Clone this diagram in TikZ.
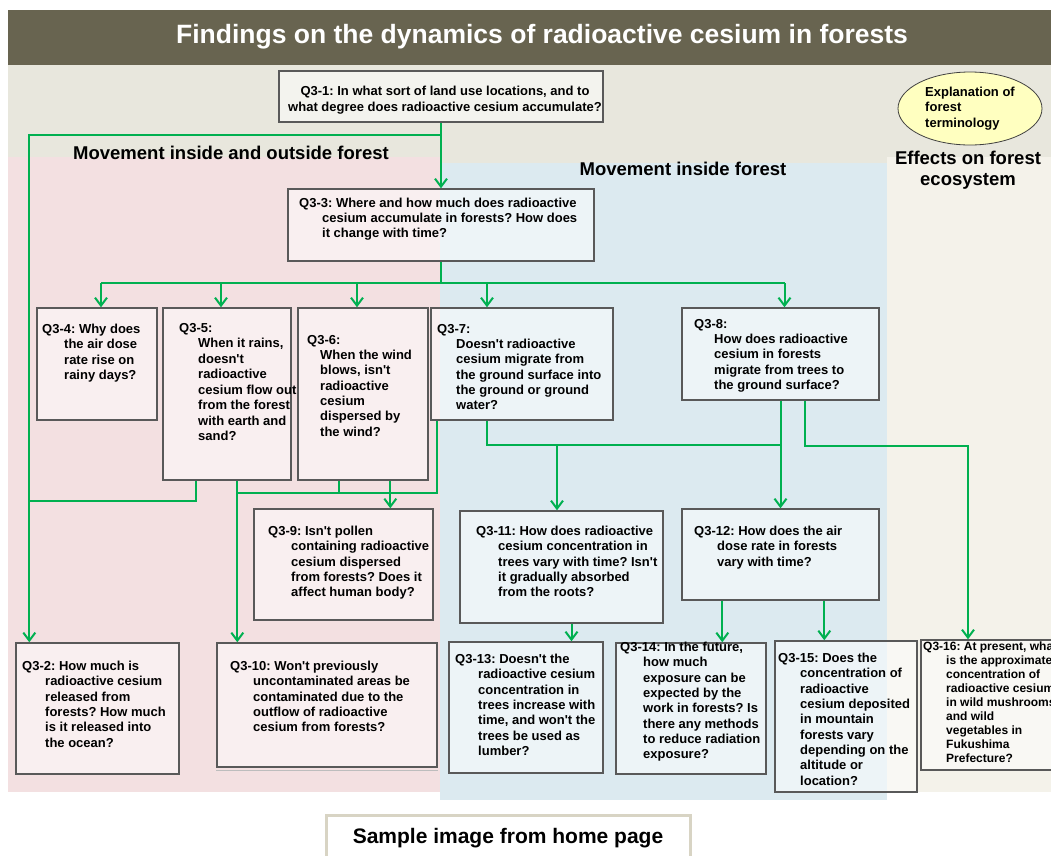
\documentclass[tikz,border=0pt]{standalone}
\usepackage{fontspec}
\setmainfont{Liberation Sans}[Ligatures=TeXOff]
\usetikzlibrary{positioning,arrows.meta,shapes.geometric}

\definecolor{titlebar}{RGB}{104,100,80}
\definecolor{topzone}{RGB}{232,231,221}
\definecolor{pinkzone}{RGB}{243,224,225}
\definecolor{bluezone}{RGB}{220,234,240}
\definecolor{ecozone}{RGB}{244,242,234}
\definecolor{flowgreen}{RGB}{0,176,80}
\definecolor{boxline}{RGB}{89,89,89}
\definecolor{notebox}{RGB}{216,212,196}
\definecolor{termfill}{RGB}{255,255,192}
\newcommand{\qi}[1][22]{\hspace*{#1pt}}
\frenchspacing

\begin{document}
\begin{tikzpicture}[x=1pt,y=-1pt,
  qbox/.style={draw=boxline,line width=1.4pt,fill=white,fill opacity=0.5,rectangle,inner sep=0pt},
  qtext/.style={anchor=north west,inner sep=0pt,align=left,font=\fontsize{13}{15.3}\selectfont\bfseries},
  link/.style={draw=flowgreen,line width=2pt},
  flow/.style={link,-{Straight Barb[length=8pt,width=12pt]}},
  zone/.style={font=\fontsize{18.5}{21}\selectfont\bfseries}]
\useasboundingbox (0,0) rectangle (1051,855);
\clip (0,0) rectangle (1051,855);

% background zones
\fill[titlebar] (8,10) rectangle (1051,65);
\fill[topzone] (8,65) rectangle (1051,163);
\fill[pinkzone] (8,157) rectangle (440,792);
\fill[bluezone] (440,163) rectangle (887,800);
\fill[ecozone] (887,157) rectangle (1051,792);

\node[font=\fontsize{26.5}{30}\selectfont\bfseries,text=white] (title) at (542,37) {Findings on the dynamics of radioactive cesium in forests};
\node[zone] (outside) at (231,153) {Movement inside and outside forest};
\node[zone] (inside) at (683,169) {Movement inside forest};
\node[zone,align=center,font=\fontsize{18.5}{21}\selectfont\bfseries] (effects) at (968,170) {Effects on forest\\ecosystem};
\node[ellipse,draw=black!75,line width=0.8pt,fill=termfill,minimum width=144pt,minimum height=73pt,inner sep=0pt,
  align=left,font=\fontsize{13}{15.5}\selectfont\bfseries] (terms) at (970,108.5) {Explanation of\\forest\\terminology};

% question boxes
\node[qbox,minimum width=324pt,minimum height=51pt] (q1) at (441,96.5) {};
\node[qbox,minimum width=306pt,minimum height=72pt] (q3) at (441,225) {};
\node[qbox,minimum width=120pt,minimum height=112pt] (q4) at (97,364) {};
\node[qbox,minimum width=128pt,minimum height=172pt] (q5) at (227,394) {};
\node[qbox,minimum width=130pt,minimum height=172pt] (q6) at (363,394) {};
\node[qbox,minimum width=182pt,minimum height=112pt] (q7) at (522,364) {};
\node[qbox,minimum width=197pt,minimum height=92pt] (q8) at (780.5,354) {};
\node[qbox,minimum width=179pt,minimum height=111pt] (q9) at (343.5,564.5) {};
\node[qbox,minimum width=163pt,minimum height=131pt] (q2) at (97.5,708.5) {};
\node[qbox,minimum width=220pt,minimum height=124pt] (q10) at (327,705) {};
\node[qbox,minimum width=203pt,minimum height=112pt] (q11) at (561.5,567) {};
\node[qbox,minimum width=197pt,minimum height=91pt] (q12) at (780.5,554.5) {};
\node[qbox,minimum width=154pt,minimum height=131pt] (q13) at (526,707.5) {};
\node[qbox,minimum width=150pt,minimum height=131pt] (q14) at (691,708.5) {};
\node[qbox,minimum width=142pt,minimum height=151pt] (q15) at (846,716.5) {};
\node[qbox,minimum width=139pt,minimum height=130pt] (q16) at (990.5,705) {};
\draw[boxline!40,line width=1pt] ([yshift=-3]q10.south west) -- ([yshift=-3]q10.south east);

% connectors
\coordinate (fork) at (441,135);
\draw[flow] (q1.south) -- (q3.north);
\draw[flow] (fork) -| ([xshift=14]q2.north west);
\coordinate (rainjoin) at (30,501);
\draw[link] ([xshift=34]q5.south west) |- (rainjoin);
\coordinate (bus) at (441,283);
\draw[link] (q3.south) -- (bus);
\draw[link] ([xshift=4]q4.north |- bus) -- ([xshift=4]q8.north |- bus);
\foreach \q/\dx in {q4/4,q5/-6,q6/-6,q7/-35,q8/4}
  \draw[flow] ([xshift=\dx]\q.north |- bus) -- ([xshift=\dx]\q.north);
\coordinate (washL) at (238,493);
\draw[link] ([xshift=7]q7.south west) |- (washL);
\draw[link] ([xshift=42]q6.south west) -- ([xshift=42]q6.south west |- washL);
\draw[flow] ([xshift=75]q5.south west) -- ([xshift=75]q5.south west |- q10.north);
\draw[flow] ([xshift=93]q6.south west) -- ([xshift=93]q6.south west |- q9.north);
\coordinate (soil) at (557,445);
\draw[link] ([xshift=57]q7.south west) |- (q8.south |- soil);
\draw[flow] (soil) -- (soil |- q11.north);
\draw[flow] (q8.south) -- (q12.north);
\coordinate (food) at (968,446);
\draw[flow] ([xshift=24]q8.south) |- (food) -- (food |- q16.north);
\draw[flow] ([xshift=10]q11.south) -- ([xshift=10]q11.south |- q13.north);
\draw[flow] ([xshift=41]q12.south west) -- ([xshift=41]q12.south west |- q14.north);
\draw[flow] ([xshift=143]q12.south west) -- ([xshift=143]q12.south west |- q15.north);

% question texts
\node[qtext,anchor=north,align=center,font=\fontsize{13}{16}\selectfont\bfseries] (t1) at (445,86) {Q3-1: In what sort of land use locations, and to\\what degree does radioactive cesium accumulate?};
\node[qtext,font=\fontsize{13}{15}\selectfont\bfseries] (t3) at (299,198) {Q3-3: Where and how much does radioactive\\\qi[23]cesium accumulate in forests? How does\\\qi[23]it change with time?};
\node[qtext] (t4) at (42,324) {Q3-4: Why does\\\qi the air dose\\\qi rate rise on\\\qi rainy days?};
\node[qtext,font=\fontsize{13}{15.5}\selectfont\bfseries] (t5) at (179,323) {Q3-5:\\\qi[19]When it rains,\\\qi[19]doesn't\\\qi[19]radioactive\\\qi[19]cesium flow out\\\qi[19]from the forest\\\qi[19]with earth and\\\qi[19]sand?};
\node[qtext] (t6) at (307,335) {Q3-6:\\\qi[13]When the wind\\\qi[13]blows, isn't\\\qi[13]radioactive\\\qi[13]cesium\\\qi[13]dispersed by\\\qi[13]the wind?};
\node[qtext] (t7) at (437,324) {Q3-7:\\\qi[19]Doesn't radioactive\\\qi[19]cesium migrate from\\\qi[19]the ground surface into\\\qi[19]the ground or ground\\\qi[19]water?};
\node[qtext] (t8) at (694,319) {Q3-8:\\\qi[20]How does radioactive\\\qi[20]cesium in forests\\\qi[20]migrate from trees to\\\qi[20]the ground surface?};
\node[qtext] (t9) at (268,526) {Q3-9: Isn't pollen\\\qi[23]containing radioactive\\\qi[23]cesium dispersed\\\qi[23]from forests? Does it\\\qi[23]affect human body?};
\node[qtext] (t2) at (22,661) {Q3-2: How much is\\\qi[23]radioactive cesium\\\qi[23]released from\\\qi[23]forests? How much\\\qi[23]is it released into\\\qi[23]the ocean?};
\node[qtext] (t10) at (230,661) {Q3-10: Won't previously\\\qi[23]uncontaminated areas be\\\qi[23]contaminated due to the\\\qi[23]outflow of radioactive\\\qi[23]cesium from forests?};
\node[qtext] (t11) at (476,526) {Q3-11: How does radioactive\\\qi cesium concentration in\\\qi trees vary with time? Isn't\\\qi it gradually absorbed\\\qi from the roots?};
\node[qtext] (t12) at (694,526) {Q3-12: How does the air\\\qi[23]dose rate in forests\\\qi[23]vary with time?};
\node[qtext] (t13) at (455,654) {Q3-13: Doesn't the\\\qi[23]radioactive cesium\\\qi[23]concentration in\\\qi[23]trees increase with\\\qi[23]time, and won't the\\\qi[23]trees be used as\\\qi[23]lumber?};
\node[qtext] (t14) at (620,642) {Q3-14: In the future,\\\qi[23]how much\\\qi[23]exposure can be\\\qi[23]expected by the\\\qi[23]work in forests? Is\\\qi[23]there any methods\\\qi[23]to reduce radiation\\\qi[23]exposure?};
\node[qtext] (t15) at (778,653) {Q3-15: Does the\\\qi concentration of\\\qi radioactive\\\qi cesium deposited\\\qi in mountain\\\qi forests vary\\\qi depending on the\\\qi altitude or\\\qi location?};
\node[qtext,font=\fontsize{12}{13.9}\selectfont\bfseries] (t16) at (923,642) {Q3-16: At present, what\\\qi[23]is the approximate\\\qi[23]concentration of\\\qi[23]radioactive cesium\\\qi[23]in wild mushrooms\\\qi[23]and wild\\\qi[23]vegetables in\\\qi[23]Fukushima\\\qi[23]Prefecture?};

% caption box
\node[draw=notebox,line width=3pt,fill=white,minimum width=364pt,minimum height=46pt,
  font=\fontsize{21}{24}\selectfont\bfseries] (sample) at (508,838) {Sample image from home page};
\end{tikzpicture}
\end{document}
